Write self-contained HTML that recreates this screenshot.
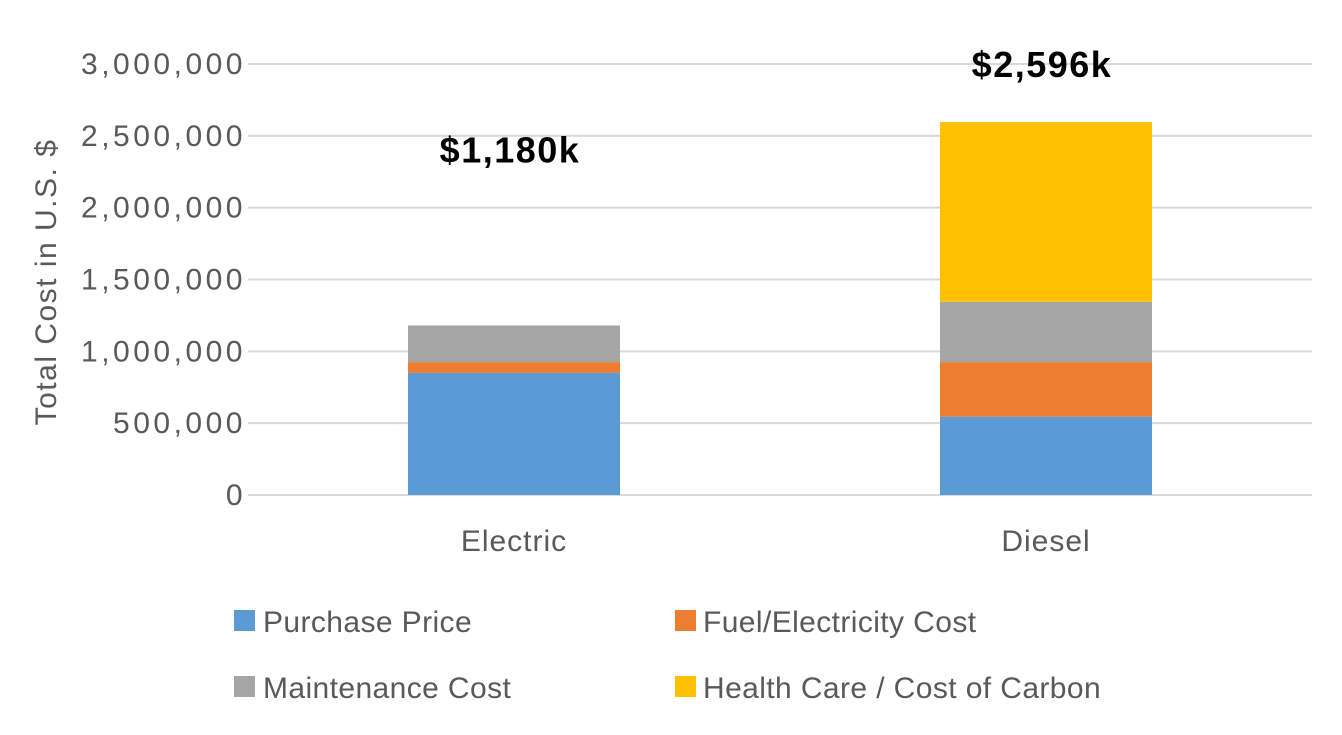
<!DOCTYPE html>
<html><head><meta charset="utf-8"><style>
body{margin:0;background:#fff;font-family:"Liberation Sans",sans-serif}
svg text{font-family:"Liberation Sans",sans-serif}
</style></head><body>
<svg id="chart" width="1342" height="730">
<g id="grid"></g><g id="bars"></g><g id="labels"></g>
<text transform="translate(56,282) rotate(-90)" text-anchor="middle" font-size="30" letter-spacing="1.5" fill="#595959">Total Cost in U.S. $</text>
<g font-size="30" letter-spacing="0.4" fill="#595959">
<g><rect x="234" y="610" width="21" height="21" fill="#5b9bd5"/><text x="263" y="632">Purchase Price</text></g>
<g><rect x="675" y="610" width="21" height="21" fill="#ed7d31"/><text x="703" y="632">Fuel/Electricity Cost</text></g>
<g><rect x="234" y="676" width="21" height="21" fill="#a5a5a5"/><text x="263" y="698">Maintenance Cost</text></g>
<g><rect x="675" y="676" width="21" height="21" fill="#ffc000"/><text x="703" y="698">Health Care / Cost of Carbon</text></g>
</g>
</svg>
<script>
const categories=["Electric","Diesel"];
const purchase=[850000,545000];
const fuel=[75000,380000];
const maintenance=[255000,420000];
const health=[0,1251000];
const totalLabels=["$1,180k","$2,596k"];
const ticks=[0,500000,1000000,1500000,2000000,2500000,3000000];
const tickLabels=["0","500,000","1,000,000","1,500,000","2,000,000","2,500,000","3,000,000"];
const series=[purchase,fuel,maintenance,health];
const colors=["#5b9bd5","#ed7d31","#a5a5a5","#ffc000"];
const names=["purchase","fuel","maintenance","health"];
const NS="http://www.w3.org/2000/svg";
const x0=248,x1=1312,yb=495,yt=64,ymax=3000000;
const y=v=>yb-(v/ymax)*(yb-yt);
const band=(x1-x0)/categories.length;
const xc=i=>x0+band*(i+0.5);
const bw=212;
function mk(t,a,p){const e=document.createElementNS(NS,t);for(const k in a)e.setAttribute(k,a[k]);p.appendChild(e);return e;}
const grid=document.getElementById('grid');
ticks.forEach((t,i)=>{
 const l=mk('line',{x1:x0,x2:x1,y1:y(t),y2:y(t),stroke:'#d9d9d9','stroke-width':2},grid);
 
 
 const tx=mk('text',{x:246,y:y(t)+10,'text-anchor':'end','font-size':30,'letter-spacing':3.5,fill:'#595959'},grid);
 tx.textContent=tickLabels[i];
 
 
});
const bars=document.getElementById('bars'),labels=document.getElementById('labels');
categories.forEach((c,i)=>{
 let acc=0;
 series.forEach((s,j)=>{
  if(s[i]<=0)return;
  const r=mk('rect',{x:xc(i)-bw/2,y:y(acc+s[i]),width:bw,height:y(acc)-y(acc+s[i]),fill:colors[j]},bars);
  
  
  acc+=s[i];
 });
 const t=mk('text',{x:xc(i),y:551,'text-anchor':'middle','font-size':30,'letter-spacing':1,fill:'#595959'},labels);
 t.textContent=c;
 
 
 const tl=mk('text',{x:xc(i)-4,y:y(acc)-(i==0?163:45),'text-anchor':'middle','font-size':36,'letter-spacing':1.5,'font-weight':'bold',fill:'#000'},labels);
 tl.textContent=totalLabels[i];
 
 
});
</script>
</body></html>
